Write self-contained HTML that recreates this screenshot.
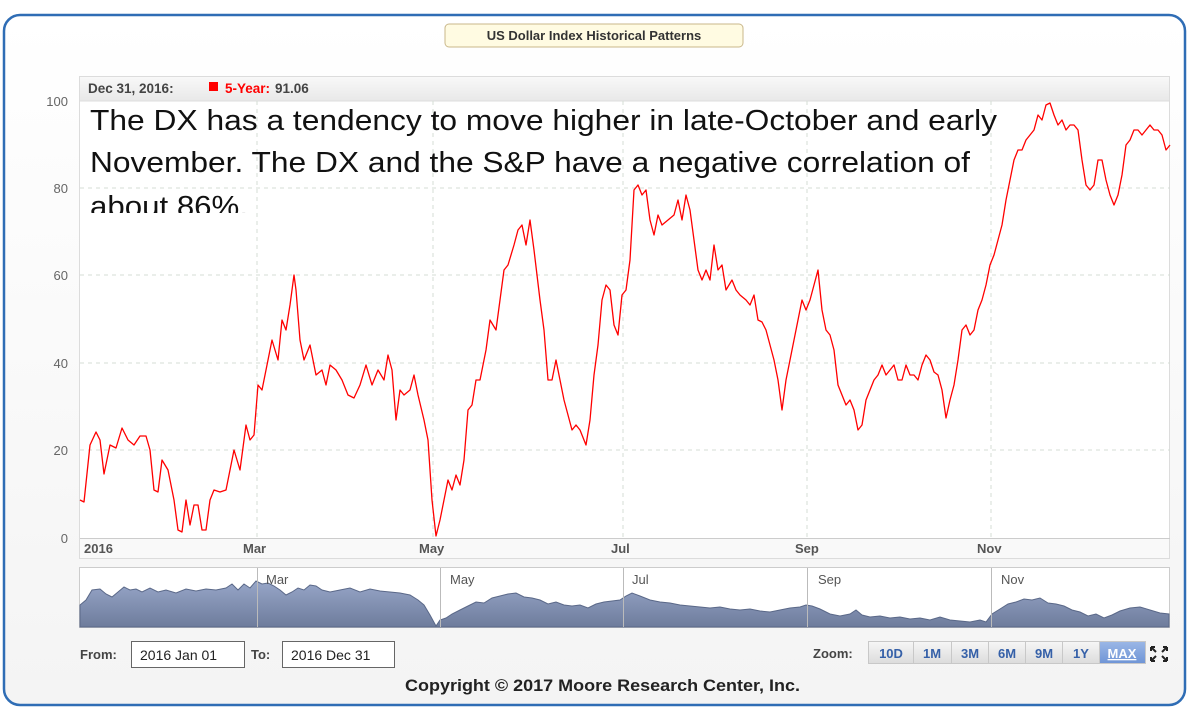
<!DOCTYPE html>
<html><head><meta charset="utf-8"><style>
html,body{margin:0;padding:0;background:#fff;width:1200px;height:720px;overflow:hidden}
svg{display:block}
</style></head><body>
<svg width="1200" height="720" viewBox="0 0 1200 720" xmlns="http://www.w3.org/2000/svg" font-family="'Liberation Sans', sans-serif">
<defs>
<linearGradient id="bg" x1="0" y1="0" x2="0" y2="1"><stop offset="0" stop-color="#ffffff"/><stop offset="1" stop-color="#f4f4f4"/></linearGradient>
<linearGradient id="hd" x1="0" y1="0" x2="0" y2="1"><stop offset="0" stop-color="#f8f8f8"/><stop offset="1" stop-color="#e8e8e8"/></linearGradient>
<linearGradient id="nv" x1="0" y1="0" x2="0" y2="1"><stop offset="0" stop-color="#97a6c8"/><stop offset="1" stop-color="#6e7c9c"/></linearGradient>
<linearGradient id="btn" x1="0" y1="0" x2="0" y2="1"><stop offset="0" stop-color="#f6f6f6"/><stop offset="1" stop-color="#dcdcdc"/></linearGradient>
<linearGradient id="btnA" x1="0" y1="0" x2="0" y2="1"><stop offset="0" stop-color="#9bb7e6"/><stop offset="1" stop-color="#6f95d6"/></linearGradient>
<clipPath id="pc"><rect x="80" y="101" width="1090" height="112"/></clipPath>
</defs>
<rect x="4" y="15" width="1181" height="690" rx="16" fill="url(#bg)" stroke="#2f6db5" stroke-width="2.5"/>
<rect x="445" y="24" width="298" height="23" rx="4" fill="#fffbe2" stroke="#c9b78a"/>
<text x="594" y="40" font-size="13" font-weight="bold" text-anchor="middle" fill="#333">US Dollar Index Historical Patterns</text>
<rect x="79.5" y="76.5" width="1090" height="482" fill="#fff" stroke="#dcdcdc"/>
<rect x="80" y="77" width="1089" height="24" fill="url(#hd)"/>
<line x1="80" y1="101" x2="1170" y2="101" stroke="#ddd"/>
<text x="88" y="93" font-size="13.5" font-weight="bold" fill="#444">Dec 31, 2016:</text>
<rect x="209" y="82" width="9" height="9" fill="#f00"/>
<text x="225" y="93" font-size="13.5" font-weight="bold" fill="#f00">5-Year:</text>
<text x="275" y="93" font-size="13.5" font-weight="bold" fill="#444">91.06</text>
<g stroke="#d4ddd4" stroke-dasharray="4,4" stroke-width="1">
<line x1="80" y1="188" x2="1170" y2="188"/><line x1="80" y1="275" x2="1170" y2="275"/>
<line x1="80" y1="363" x2="1170" y2="363"/><line x1="80" y1="450" x2="1170" y2="450"/>
<line x1="257" y1="101" x2="257" y2="538"/><line x1="433" y1="101" x2="433" y2="538"/>
<line x1="623" y1="101" x2="623" y2="538"/><line x1="807" y1="101" x2="807" y2="538"/>
<line x1="991" y1="101" x2="991" y2="538"/>
</g>
<line x1="80" y1="538.5" x2="1170" y2="538.5" stroke="#ccc"/>
<rect x="80" y="539" width="1089" height="19" fill="#f9f9f9"/>
<g font-size="13" fill="#666" text-anchor="end">
<text x="68" y="106">100</text><text x="68" y="193">80</text><text x="68" y="280">60</text>
<text x="68" y="368">40</text><text x="68" y="455">20</text><text x="68" y="543">0</text>
</g>
<g font-size="13" font-weight="bold" fill="#555">
<text x="84" y="553">2016</text><text x="243" y="553">Mar</text><text x="419" y="553">May</text>
<text x="611" y="553">Jul</text><text x="795" y="553">Sep</text><text x="977" y="553">Nov</text>
</g>
<g clip-path="url(#pc)" font-size="29" fill="#111">
<text x="90" y="130" textLength="907" lengthAdjust="spacingAndGlyphs">The DX has a tendency to move higher in late-October and early</text>
<text x="90" y="172" textLength="880" lengthAdjust="spacingAndGlyphs">November. The DX and the S&amp;P have a negative correlation of</text>
<text x="90" y="216" textLength="158" lengthAdjust="spacingAndGlyphs">about 86%.</text>
</g>
<polyline fill="none" stroke="#f00" stroke-width="1.3" stroke-linejoin="round" points="80,500 84,502 90,445 96,432 100,440 104,474 110,445 116,448 122,428 128,440 134,445 140,436 146,436 150,450 154,490 158,492 162,460 168,470 174,500 178,530 182,532 186,500 190,525 194,505 198,505 202,530 206,530 210,500 214,490 220,492 226,490 230,470 234,450 240,470 246,425 250,440 254,435 258,385 262,390 266,370 272,340 278,360 282,320 286,330 290,305 294,275 296,290 300,340 304,360 310,345 316,375 322,370 326,385 330,365 336,370 342,380 348,395 354,398 360,385 366,365 372,385 378,370 384,380 388,355 392,370 396,420 400,390 404,395 410,390 414,375 418,395 424,420 428,440 432,500 436,536 440,520 444,500 448,480 452,490 456,475 460,485 464,460 468,410 472,405 476,380 480,380 486,350 490,320 496,330 500,300 504,270 508,265 514,245 518,230 522,225 526,245 530,220 534,250 540,300 544,330 548,380 552,380 556,360 560,380 564,400 568,415 572,430 576,425 580,430 586,445 590,420 594,375 598,345 602,300 606,285 610,290 614,325 618,335 622,295 626,290 630,260 634,190 638,185 642,195 646,190 650,220 654,235 658,215 662,225 668,220 674,215 678,200 682,220 686,195 690,210 694,240 698,270 702,280 706,270 710,280 714,245 718,270 722,265 726,290 732,280 736,290 740,295 746,300 750,305 754,295 758,320 762,322 766,330 770,345 774,360 778,380 782,410 786,380 790,360 794,340 798,320 802,300 806,310 810,300 814,285 818,270 822,310 826,330 830,335 834,350 838,385 842,395 846,405 850,400 854,410 858,430 862,425 866,400 870,390 874,380 878,375 882,365 886,375 890,370 894,365 898,380 902,380 906,365 910,375 914,375 918,380 922,365 926,355 930,360 934,372 938,375 942,390 946,418 950,400 954,385 958,360 962,330 966,325 970,335 974,330 978,310 982,300 986,285 990,265 994,255 998,240 1002,225 1006,200 1010,180 1014,160 1018,150 1022,150 1026,140 1030,135 1034,130 1038,115 1042,120 1046,105 1050,103 1054,115 1058,125 1062,120 1066,130 1070,125 1074,125 1078,130 1082,160 1086,185 1090,190 1094,185 1098,160 1102,160 1106,180 1110,195 1114,205 1118,195 1122,175 1126,145 1130,140 1134,130 1138,130 1142,135 1146,130 1150,125 1154,130 1158,130 1162,135 1166,150 1170,145"/>
<rect x="79.5" y="567.5" width="1090" height="60" fill="#fff" stroke="#ccc"/>
<path fill="url(#nv)" stroke="#5a6888" stroke-width="1" d="M80,605 L86,600 92,590 100,589 106,594 112,597 118,592 124,587 130,590 136,589 142,592 150,588 158,592 166,590 176,593 186,589 196,591 206,589 216,590 226,588 232,584 238,590 244,584 250,588 256,581 262,584 268,583 274,586 280,590 286,595 292,592 298,588 304,590 310,585 316,586 322,590 330,592 340,590 350,588 360,592 370,589 380,591 390,592 400,593 410,595 418,600 424,605 430,615 436,626 440,620 446,618 452,614 460,610 468,606 476,602 484,603 492,598 500,596 508,594 516,593 524,597 532,598 540,600 548,604 556,602 564,605 572,606 580,605 588,608 596,604 604,602 612,601 620,600 626,596 632,593 640,596 650,600 660,602 670,603 680,605 690,606 700,607 710,608 720,607 730,609 740,610 750,609 760,611 770,612 780,610 790,608 800,607 806,605 812,606 820,609 830,614 840,616 850,614 856,610 862,615 870,617 880,616 890,618 900,617 910,619 920,618 930,620 940,617 950,620 960,621 970,622 980,620 986,622 992,614 1000,609 1008,604 1016,602 1024,599 1032,600 1040,598 1048,603 1056,604 1064,606 1072,610 1080,612 1088,616 1096,614 1104,618 1112,615 1120,611 1130,608 1140,607 1150,610 1160,613 1169,614 L1169,627 L80,627 Z"/>
<g stroke="#bbb"><line x1="257.5" y1="568" x2="257.5" y2="627"/><line x1="440.5" y1="568" x2="440.5" y2="627"/><line x1="623.5" y1="568" x2="623.5" y2="627"/><line x1="807.5" y1="568" x2="807.5" y2="627"/><line x1="991.5" y1="568" x2="991.5" y2="627"/></g>
<g font-size="13" fill="#555"><text x="266" y="584">Mar</text><text x="450" y="584">May</text><text x="632" y="584">Jul</text><text x="818" y="584">Sep</text><text x="1001" y="584">Nov</text></g>
<text x="80" y="659" font-size="13" font-weight="bold" fill="#444">From:</text>
<rect x="131.5" y="641.5" width="113" height="26" fill="#fff" stroke="#666"/>
<text x="140" y="660" font-size="14" fill="#222">2016 Jan 01</text>
<text x="251" y="659" font-size="13" font-weight="bold" fill="#444">To:</text>
<rect x="282.5" y="641.5" width="112" height="26" fill="#fff" stroke="#666"/>
<text x="291" y="660" font-size="14" fill="#222">2016 Dec 31</text>
<text x="813" y="658" font-size="13" font-weight="bold" fill="#444">Zoom:</text>
<g font-size="13" font-weight="bold" fill="#3560a8" text-anchor="middle">
<rect x="868.5" y="641.5" width="231" height="22" fill="url(#btn)" stroke="#c8c8c8"/>
<rect x="1099.5" y="641.5" width="46" height="22" fill="url(#btnA)" stroke="#c8c8c8"/>
<g stroke="#c8c8c8"><line x1="913.5" y1="642" x2="913.5" y2="663"/><line x1="951.5" y1="642" x2="951.5" y2="663"/><line x1="988.5" y1="642" x2="988.5" y2="663"/><line x1="1025.5" y1="642" x2="1025.5" y2="663"/><line x1="1062.5" y1="642" x2="1062.5" y2="663"/></g>
<text x="891" y="658">10D</text><text x="932" y="658">1M</text><text x="970" y="658">3M</text><text x="1007" y="658">6M</text><text x="1044" y="658">9M</text><text x="1081" y="658">1Y</text>
<text x="1122" y="658" fill="#fff" text-decoration="underline">MAX</text>
</g>
<g stroke="#222" stroke-width="2" fill="none"><path d="M1151,647 l5,5 M1151,647 h4 M1151,647 v4 M1167,647 l-5,5 M1167,647 h-4 M1167,647 v4 M1151,661 l5,-5 M1151,661 h4 M1151,661 v-4 M1167,661 l-5,-5 M1167,661 h-4 M1167,661 v-4"/></g>
<text x="405" y="691" font-size="17" font-weight="bold" fill="#222" textLength="395" lengthAdjust="spacingAndGlyphs">Copyright © 2017 Moore Research Center, Inc.</text>
</svg>
</body></html>
